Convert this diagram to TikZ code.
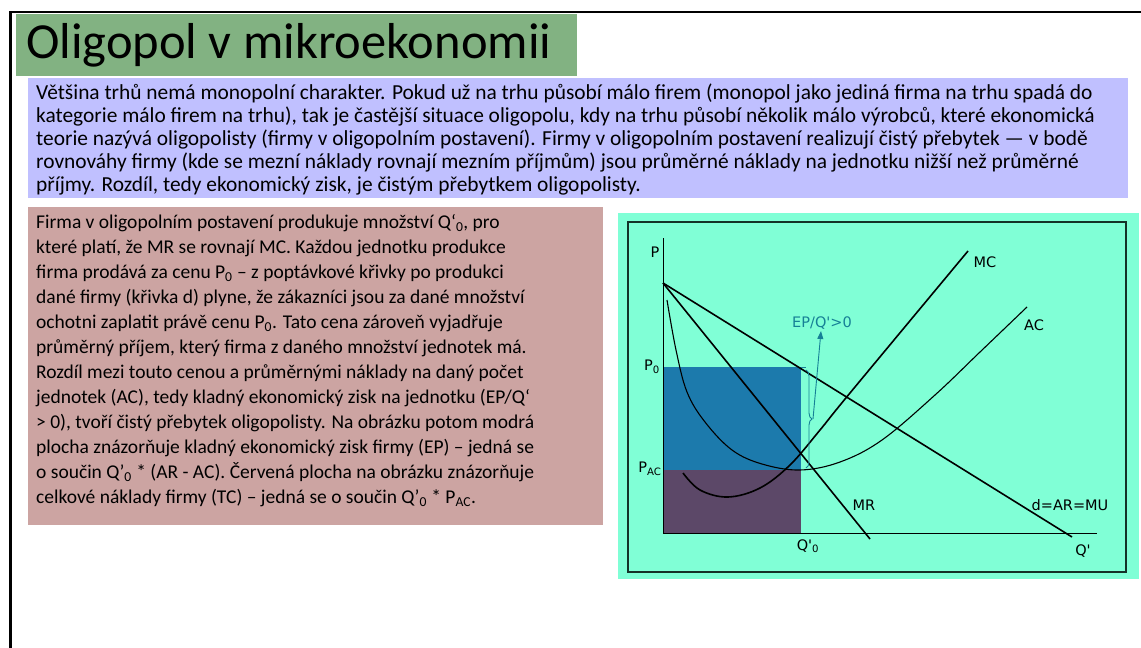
\documentclass[tikz,border=0pt]{standalone}
\usepackage{fontspec}
\setmainfont{Carlito}
\newfontfamily\labfont{DejaVu Sans}
\usetikzlibrary{arrows.meta,decorations.pathreplacing}
\definecolor{titlegreen}{RGB}{130,178,130}
\definecolor{lavender}{RGB}{192,192,255}
\definecolor{rosebox}{RGB}{204,164,162}
\definecolor{aqua}{RGB}{128,255,214}
\definecolor{profitblue}{RGB}{28,122,172}
\definecolor{costpurple}{RGB}{92,72,104}
\definecolor{tealline}{RGB}{22,128,150}
\definecolor{framedark}{RGB}{20,50,40}
\tikzset{
  panel/.style={anchor=north west, inner sep=0pt, outer sep=0pt, draw=none},
  bodytext/.style={anchor=north west, inner sep=0pt, align=left},
  curve/.style={line width=1.6pt, black},
  thincurve/.style={line width=1.1pt, black},
  lab/.style={font=\labfont\fontsize{14.5}{16}\selectfont, inner sep=0pt},
}
\begin{document}
\begin{tikzpicture}[x=1pt,y=-1pt]
\useasboundingbox (0,0) rectangle (1141,648);
% slide border
\draw[line width=2.5pt] (10.5,648) -- (10.5,12) -- (1141,12);
% title
\node[panel, fill=titlegreen, minimum width=561pt, minimum height=62pt] (titlebox) at (16,14) {};
\node[anchor=west, inner sep=0pt, font=\fontsize{50.5}{56}\selectfont] (title) at (26,45) {Oligopol v mikroekonomii};
% top text
\node[panel, fill=lavender, minimum width=1100pt, minimum height=120pt] (topbox) at (28,78) {};
\node[bodytext, font=\fontsize{21.4}{23}\selectfont] (toptext) at (36,83.5) {Většina trhů nemá monopolní charakter. Pokud už na trhu působí málo firem (monopol jako jediná firma na trhu spadá do\\
kategorie málo firem na trhu), tak je častější situace oligopolu, kdy na trhu působí několik málo výrobců, které ekonomická\\
teorie nazývá oligopolisty (firmy v oligopolním postavení). Firmy v oligopolním postavení realizují čistý přebytek — v bodě\\
rovnováhy firmy (kde se mezní náklady rovnají mezním příjmům) jsou průměrné náklady na jednotku nižší než průměrné\\
příjmy. Rozdíl, tedy ekonomický zisk, je čistým přebytkem oligopolisty.};
% left text
\node[panel, fill=rosebox, minimum width=575pt, minimum height=318pt] (leftbox) at (28,207) {};
\node[bodytext, font=\fontsize{19.5}{25}\selectfont] (lefttext) at (36,214) {Firma v oligopolním postavení produkuje množství Q‘\textsubscript{0}, pro\\
které platí, že MR se rovnají MC. Každou jednotku produkce\\
firma prodává za cenu P\textsubscript{0} – z poptávkové křivky po produkci\\
dané firmy (křivka d) plyne, že zákazníci jsou za dané množství\\
ochotni zaplatit právě cenu P\textsubscript{0}. Tato cena zároveň vyjadřuje\\
průměrný příjem, který firma z daného množství jednotek má.\\
Rozdíl mezi touto cenou a průměrnými náklady na daný počet\\
jednotek (AC), tedy kladný ekonomický zisk na jednotku (EP/Q‘\\
> 0), tvoří čistý přebytek oligopolisty. Na obrázku potom modrá\\
plocha znázorňuje kladný ekonomický zisk firmy (EP) – jedná se\\
o součin Q'\textsubscript{0} * (AR - AC). Červená plocha na obrázku znázorňuje\\
celkové náklady firmy (TC) – jedná se o součin Q'\textsubscript{0} * P\textsubscript{AC}.};
% graph panel
\node[panel, fill=aqua, minimum width=521pt, minimum height=366pt] (graphbox) at (618,213) {};
\draw[line width=2pt, framedark] (628,222) rectangle (1126,572);
% areas
\fill[profitblue] (663,367) rectangle (801,470);
\fill[costpurple] (663,470) rectangle (801,533);
% axes
\coordinate (ptop) at (663,238);
\coordinate (origin) at (663,533);
\coordinate (qend) at (1097,533);
\draw[line width=1pt] (ptop) -- (origin) -- (qend);
% demand and MR
\coordinate (dstart) at (663,283);
\coordinate (dend) at (1072,537);
\coordinate (mrend) at (870,539);
\draw[curve] (dstart) -- (dend);
\draw[curve] (dstart) -- (mrend);
% MC
\draw[curve] plot[smooth, tension=0.6] coordinates {(683,473) (700,490) (728,497) (760,488) (790,465) (820,430) (850,393) (968,251)};
% AC
\draw[thincurve] plot[smooth, tension=0.6] coordinates {(667,300) (676,350) (687,392) (705,422) (732,450) (762,464) (800,470) (840,462) (882,440) (935,395) (980,352) (1027,307)};
% brace and arrow
\draw[tealline, line width=0.8pt] (801,367) -- (806,367);
\draw[tealline, line width=0.9pt, decorate, decoration={brace, amplitude=6pt}] (806,370) -- (806,468);
\coordinate (cusp) at (813,419);
\coordinate (arrowtip) at (821,331);
\draw[tealline, line width=0.9pt, -{Triangle[length=8pt,width=6pt]}] (cusp) -- (arrowtip);
% labels
\node[lab] (lp) at (655,252) {P};
\node[lab] (lp0) at (652,367) {P\textsubscript{0}};
\node[lab] (lpac) at (650,469) {P\textsubscript{AC}};
\node[lab] (lq0) at (808,546) {Q'\textsubscript{0}};
\node[lab] (lq) at (1083,551) {Q'};
\node[lab] (lmc) at (985,262) {MC};
\node[lab] (lac) at (1034,325) {AC};
\node[lab, text=tealline] (lep) at (822,323) {EP/Q'>0};
\node[lab] (lmr) at (864,505) {MR};
\node[lab] (ld) at (1070,505) {d=AR=MU};
\end{tikzpicture}
\end{document}
